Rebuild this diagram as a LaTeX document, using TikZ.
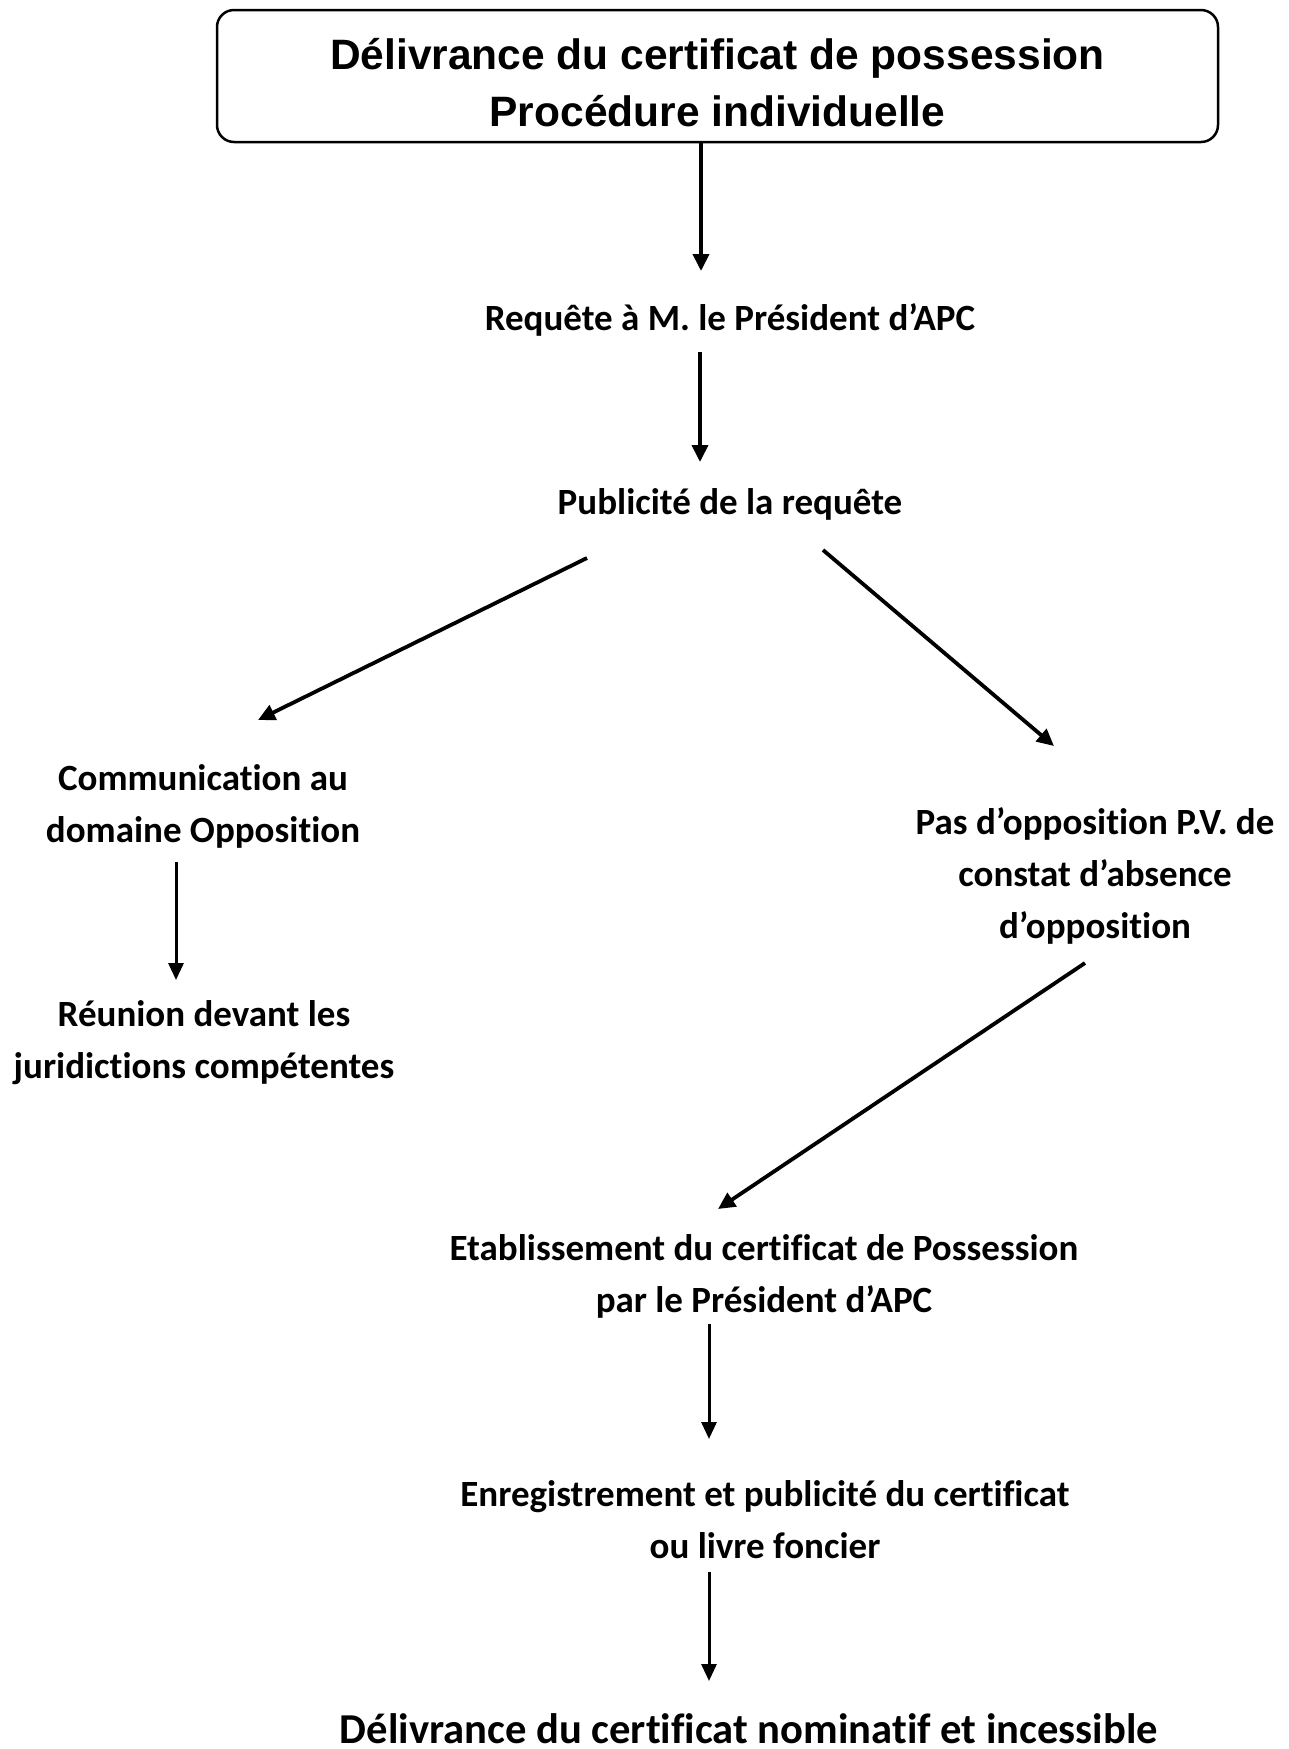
\documentclass[tikz,border=0pt]{standalone}
\usepackage{fontspec}
\usetikzlibrary{arrows.meta}
\newfontfamily\titlefont{Liberation Sans}[BoldFont={* Bold}]
\newfontfamily\bodyfont{Carlito}[BoldFont={* Bold},Ligatures={NoCommon}]
\begin{document}
\begin{tikzpicture}[x=1pt,y=-1pt,
  step label/.style={align=center,inner sep=0pt,
    font=\bodyfont\bfseries\fontsize{37}{52}\selectfont},
  flow/.style={line width=3.8pt,-{Triangle[width=16pt,length=17pt]}},
  thin flow/.style={line width=3pt,-{Triangle[width=15pt,length=17pt]}}]
\useasboundingbox (0,0) rectangle (1289,1749);

% title box and its two-line heading
\node[draw,line width=2.5pt,rounded corners=17pt,minimum width=1001pt,
      minimum height=132pt,inner sep=0pt] (title) at (717.5,76) {};
\node[align=center,inner sep=0pt,
      font=\titlefont\bfseries\fontsize{42.5}{57}\selectfont]
  (heading) at (717.5,83) {Délivrance du certificat de possession\\Procédure individuelle};

% steps
\node[step label] (req)   at (730,320)  {Requête à M. le Président d’APC};
\node[step label] (pub)   at (730,504)  {Publicité de la requête};
\node[step label] (comm)  at (203,806)  {Communication au\\domaine Opposition};
\node[step label] (reun)  at (204,1043) {Réunion devant les\\juridictions compétentes};
\node[step label] (pas)   at (1095,876) {Pas d’opposition P.V. de\\constat d’absence\\d’opposition};
\node[step label] (etab)  at (764,1276) {Etablissement du certificat de Possession\\par le Président d’APC};
\node[step label] (enreg) at (765,1520) {Enregistrement et publicité du certificat\\ou livre foncier};
\node[align=center,inner sep=0pt,anchor=base,
      font=\bodyfont\bfseries\fontsize{42.6}{52}\selectfont]
  (deliv) at (749,1743) {Délivrance du certificat nominatif et incessible};

% connector ends
\coordinate (t1) at (701,271);
\coordinate (s2) at (700,352);
\coordinate (t2) at (700,462);
\coordinate (s3) at (587,558);
\coordinate (t3) at (258,720);
\coordinate (s4) at (823,550);
\coordinate (t4) at (1054,746);
\coordinate (s5) at (176,862);
\coordinate (t5) at (176,980);
\coordinate (s6) at (1085,963);
\coordinate (t6) at (718,1209);
\coordinate (s7) at (709,1324);
\coordinate (t7) at (709,1439);
\coordinate (s8) at (709,1572);
\coordinate (t8) at (709,1681);

% connectors
\draw[flow] (title.south -| t1) -- (t1);
\draw[flow] (s2) -- (t2);
\draw[flow] (s3) -- (t3);
\draw[flow] (s4) -- (t4);
\draw[thin flow] (s5) -- (t5);
\draw[flow] (s6) -- (t6);
\draw[thin flow] (s7) -- (t7);
\draw[thin flow] (s8) -- (t8);
\end{tikzpicture}
\end{document}
